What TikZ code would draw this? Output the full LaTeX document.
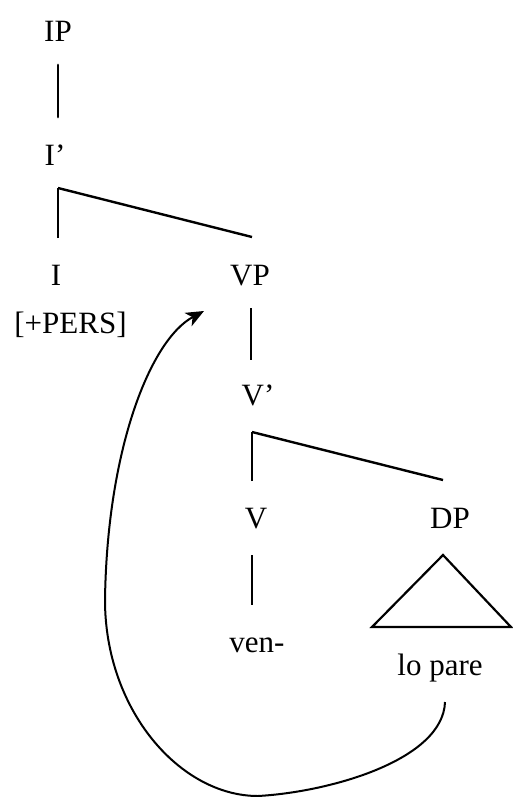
\documentclass[tikz,border=0pt]{standalone}
\usepackage{fontspec}
\setmainfont{Liberation Serif}
\usetikzlibrary{arrows.meta}
\begin{document}
\begin{tikzpicture}[x=1pt,y=-1pt,
  lbl/.style={anchor=base,inner sep=0pt,font=\fontsize{31}{37}\selectfont},
  edge/.style={line width=1.8pt},
  slant/.style={line width=2.4pt},
  bar/.style={line width=2.8pt,line cap=round},
  move/.style={line width=2pt,-{Stealth[length=18pt,width=15pt,inset=5pt]}}]
\useasboundingbox (0,0) rectangle (512,797);

% category labels
\node[lbl] (IP)   at (58,42)   {IP};
\node[lbl] (Ibar) at (55,165)  {I'};
\node[lbl] (I)    at (56,285)  {I};
\node[lbl] (pers) at (70.5,333) {[+PERS]};
\node[lbl] (VP)   at (250,285) {VP};
\node[lbl] (Vbar) at (258,405) {V'};
\node[lbl] (V)    at (256,528) {V};
\node[lbl] (DP)   at (450,528) {DP};
\node[lbl] (ven)  at (257,652) {ven-};
\node[lbl] (lopare) at (440,675) {lo pare};

% attachment points of the branches
\coordinate (ipA) at (58,65);   \coordinate (ipB) at (58,117);
\coordinate (ibA) at (58,188);  \coordinate (ibL) at (58,238);
\coordinate (ibR) at (252,237);
\coordinate (vpA) at (251,308); \coordinate (vpB) at (251,360);
\coordinate (vbA) at (252,432); \coordinate (vbL) at (252,481);
\coordinate (vbR) at (443,480);
\coordinate (vA)  at (252,555); \coordinate (vB)  at (252,605);
\coordinate (triT) at (443,555);
\coordinate (triL) at (372,627);
\coordinate (triR) at (511,627);

% tree branches
\draw[bar]  (ipA) -- (ipB);
\draw[edge] (ibL) -- (ibA);
\draw[slant] (ibA) -- (ibR);
\draw[edge] (vpA) -- (vpB);
\draw[edge] (vbL) -- (vbA);
\draw[slant] (vbA) -- (vbR);
\draw[edge] (vA) -- (vB);
\draw[slant,line width=2.2pt,line join=miter] (triT) -- (triL) -- (triR) -- cycle;

% movement arrow from the object up to VP
\coordinate (mvS) at (445,702);
\coordinate (mvB) at (258,796);
\coordinate (mvL) at (105,600);
\coordinate (mvT) at (204,311);
\draw[move] (mvS) .. controls (443,760) and (330,792) .. (mvB)
                  .. controls (180,796) and (105,710) .. (mvL)
                  .. controls (107,450) and (150,340) .. (mvT);
\end{tikzpicture}
\end{document}
